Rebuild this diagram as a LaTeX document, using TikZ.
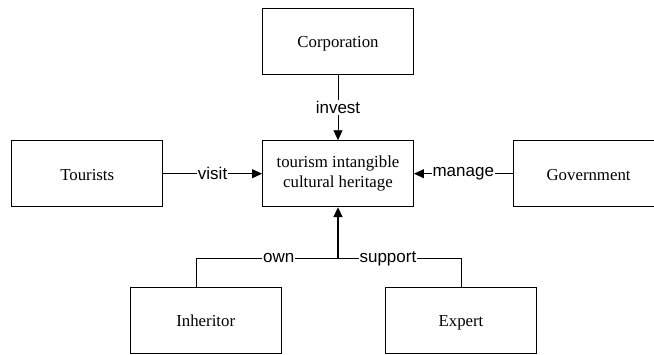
\documentclass[tikz,border=0pt]{standalone}
\usepackage{fontspec}
\setmainfont{Liberation Serif}
\newfontfamily\labfont{Liberation Sans}
\usetikzlibrary{arrows.meta}
\begin{document}
\begin{tikzpicture}[x=1pt,y=-1pt,
  box/.style={draw=black,line width=0.9pt,rectangle,minimum width=151pt,minimum height=66pt,
    align=center,inner sep=0pt,font=\fontsize{16.8}{20}\selectfont},
  onebox/.style={box,text height=12.9pt,text depth=0.3pt},
  lab/.style={fill=white,inner sep=1pt,font=\labfont\fontsize{17}{20}\selectfont},
  conn/.style={line width=0.9pt,draw=black},
  arr/.style={conn,-{Triangle[length=10pt,width=9pt]}}]
\useasboundingbox (0,0) rectangle (654,354);
\clip (0,0) rectangle (654,354);
\node[onebox] (corp) at (338,41.3) {Corporation};
\node[box] (ich) at (338,173.7) {tourism intangible\\cultural heritage};
\node[onebox] (tour) at (87.2,173.7) {Tourists};
\node[onebox] (gov) at (588.6,173.7) {Government};
\node[onebox] (inh) at (205.7,320) {Inheritor};
\node[onebox] (exp) at (461,320) {Expert};
\coordinate (j) at (338,258.3);
\draw[arr] (corp) -- node[lab] {invest} (ich);
\draw[arr] (tour) -- node[lab] {visit} (ich);
\draw[arr] (gov) -- node[lab] {manage} (ich);
\draw[conn] ([xshift=-9.7pt]inh.north) |- node[lab,pos=0.791] {own} (j);
\draw[conn] (j) -| node[lab,pos=0.203] {support} (exp.north);
\draw[conn,line width=1.6pt,-{Triangle[length=10pt,width=9pt]}] (j) -- (ich);
\end{tikzpicture}
\end{document}
